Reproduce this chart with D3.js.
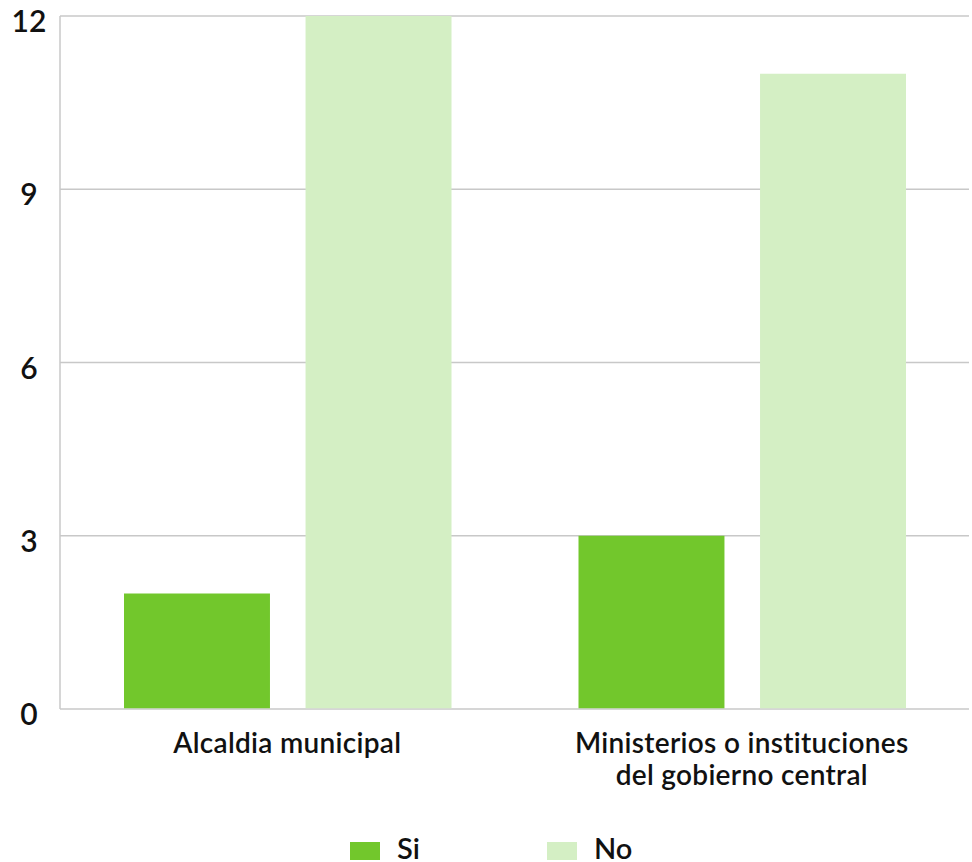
<!DOCTYPE html>
<html><head><meta charset="utf-8">
<script src="https://cdn.jsdelivr.net/npm/d3@7"></script>
<style>body{margin:0;background:#fff}svg text{font-family:Lato,"DejaVu Sans",sans-serif;font-weight:600;fill:#111}</style>
</head><body>
<svg id="c" width="972" height="862"></svg>
<script>
const categories = ["Alcaldia municipal", "Ministerios o instituciones|del gobierno central"];
const series = ["Si", "No"];
const siValues = [2, 3];
const noValues = [12, 11];
const yTicks = [0, 3, 6, 9, 12];
const colors = ["#72c72c", "#d4efc4"];

const svg = d3.select("#c");
const L = 60, R = 969, T = 16, B = 709;
const y = d3.scaleLinear().domain([0, 12]).range([B, T]);
const x0 = d3.scaleBand().domain(categories).range([L, R]);
const gw = x0.bandwidth();
const x1 = d3.scaleBand().domain(series).range([64, gw - 63]).paddingInner(0.196);
const vals = [siValues, noValues];

// gridlines
svg.append("g").selectAll("line").data(yTicks).join("line")
  .attr("x1", L).attr("x2", R).attr("y1", d => y(d)).attr("y2", d => y(d))
  .attr("stroke", "#c8c8c8").attr("stroke-width", 1.5);
svg.append("line").attr("x1", L).attr("x2", L).attr("y1", T).attr("y2", B)
  .attr("stroke", "#c8c8c8").attr("stroke-width", 1.5);

// y labels
svg.append("g").selectAll("text").data(yTicks).join("text")
  .attr("x", 29).attr("y", d => y(d) + 16).attr("text-anchor", "middle")
  .attr("font-size", 30).attr("font-weight", 500).text(d => d);

// bars
const g = svg.append("g").selectAll("g").data(categories).join("g")
  .attr("transform", d => `translate(${x0(d)},0)`);
g.selectAll("rect").data((d, i) => series.map((s, j) => ({s, v: vals[j][i], j})))
  .join("rect")
  .attr("x", d => x1(d.s)).attr("width", x1.bandwidth())
  .attr("y", d => y(d.v)).attr("height", d => B - y(d.v) - 0.75)
  .attr("fill", d => colors[d.j]);

// category labels
svg.append("g").selectAll("text").data(categories).join("text")
  .attr("text-anchor", "middle").attr("font-size", 28).attr("letter-spacing", 0.3)
  .attr("transform", d => `translate(${x0(d) + gw / 2},753)`)
  .each(function(d) {
    const lines = d.split("|");
    d3.select(this).selectAll("tspan").data(lines).join("tspan")
      .attr("x", 0).attr("dy", (l, i) => i ? 32 : 0).text(l => l);
  });

// legend
const leg = [{s: "Si", x: 350}, {s: "No", x: 547}];
const lg = svg.append("g").selectAll("g").data(leg).join("g")
  .attr("transform", d => `translate(${d.x},842)`);
lg.append("rect").attr("width", 30).attr("height", 18)
  .attr("fill", (d, i) => colors[i]);
lg.append("text").attr("x", 47).attr("y", 17).attr("font-size", 29).text(d => d.s);
</script>
</body></html>
